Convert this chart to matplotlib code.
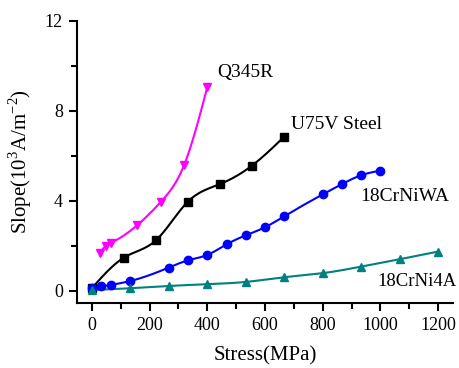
import numpy as np
import matplotlib
matplotlib.use("Agg")
import matplotlib.pyplot as plt
from matplotlib.ticker import MultipleLocator

plt.rcParams['font.family'] = ['Liberation Serif', 'DejaVu Serif']
plt.rcParams['mathtext.fontset'] = 'custom'
plt.rcParams['mathtext.rm'] = 'Liberation Serif'

# Stress (MPa) and slope (10^3 A/m^-2) for each material
q345r_x = [28, 48, 68, 158, 240, 320, 400]
q345r_y = [1.70, 2.00, 2.15, 2.93, 3.97, 5.60, 9.05]

u75v_x = [0, 111, 222, 333, 444, 555, 667]
u75v_y = [0.12, 1.48, 2.25, 3.97, 4.75, 5.57, 6.86]

crniwa_x = [0, 33, 67, 133, 267, 333, 400, 467, 533, 600, 667, 800, 867, 933, 1000]
crniwa_y = [0.15, 0.20, 0.27, 0.44, 1.04, 1.36, 1.60, 2.07, 2.47, 2.83, 3.32, 4.29, 4.75, 5.14, 5.35]

crni4a_x = [0, 133, 267, 400, 533, 667, 800, 933, 1067, 1200]
crni4a_y = [0.04, 0.12, 0.22, 0.30, 0.40, 0.61, 0.79, 1.08, 1.41, 1.75]

labels = ["Q345R", "U75V Steel", "18CrNiWA", "18CrNi4A"]


def natural_spline(x, y, n=300):
    x = np.asarray(x, float)
    y = np.asarray(y, float)
    k = len(x)
    h = np.diff(x)
    A = np.zeros((k, k))
    b = np.zeros(k)
    A[0, 0] = A[-1, -1] = 1.0
    for i in range(1, k - 1):
        A[i, i - 1] = h[i - 1]
        A[i, i] = 2 * (h[i - 1] + h[i])
        A[i, i + 1] = h[i]
        b[i] = 6 * ((y[i + 1] - y[i]) / h[i] - (y[i] - y[i - 1]) / h[i - 1])
    m = np.linalg.solve(A, b)
    xs = np.linspace(x[0], x[-1], n)
    idx = np.clip(np.searchsorted(x, xs) - 1, 0, k - 2)
    x0, x1 = x[idx], x[idx + 1]
    hh = x1 - x0
    t0 = x1 - xs
    t1 = xs - x0
    ys = (m[idx] * t0 ** 3 / (6 * hh) + m[idx + 1] * t1 ** 3 / (6 * hh)
          + (y[idx] / hh - m[idx] * hh / 6) * t0
          + (y[idx + 1] / hh - m[idx + 1] * hh / 6) * t1)
    return xs, ys


fig = plt.figure(figsize=(4.6, 3.68), dpi=100)
ax = fig.add_axes([0.167, 0.177, 0.818, 0.766])

series = [
    (q345r_x, q345r_y, "#FF00FF", "v"),
    (u75v_x, u75v_y, "black", "s"),
    (crniwa_x, crniwa_y, "#0000FF", "o"),
    (crni4a_x, crni4a_y, "#008080", "^"),
]
for x, y, c, mk in series:
    xs, ys = natural_spline(x, y)
    ax.plot(xs, ys, color=c, lw=1.5, zorder=2)
    ax.plot(x, y, ls="none", marker=mk, color=c, ms=6, zorder=3, clip_on=False)

ax.text(434, 9.73, labels[0], fontsize=14, va="center", ha="left")
ax.text(690, 7.38, labels[1], fontsize=14, va="center", ha="left")
ax.text(930, 4.18, labels[2], fontsize=14, va="center", ha="left")
ax.text(990, 0.40, labels[3], fontsize=13.5, va="center", ha="left")

ax.set_xlim(-52, 1252)
ax.set_ylim(-0.53, 12)
ax.xaxis.set_major_locator(MultipleLocator(200))
ax.xaxis.set_minor_locator(MultipleLocator(100))
ax.yaxis.set_major_locator(MultipleLocator(4))
ax.yaxis.set_minor_locator(MultipleLocator(2))

for s in ["top", "right"]:
    ax.spines[s].set_visible(False)
for s in ["left", "bottom"]:
    ax.spines[s].set_linewidth(1.5)

ax.tick_params(which="major", direction="out", length=6, width=1.5, labelsize=13, pad=4)
ax.tick_params(which="minor", direction="out", length=4, width=1.5)

ax.set_xlabel("Stress(MPa)", fontsize=15, labelpad=9)
ax.set_ylabel(r"Slope(10$^3$A/m$^{-2}$)", fontsize=15, labelpad=8)

fig.savefig("out.png", dpi=100)
